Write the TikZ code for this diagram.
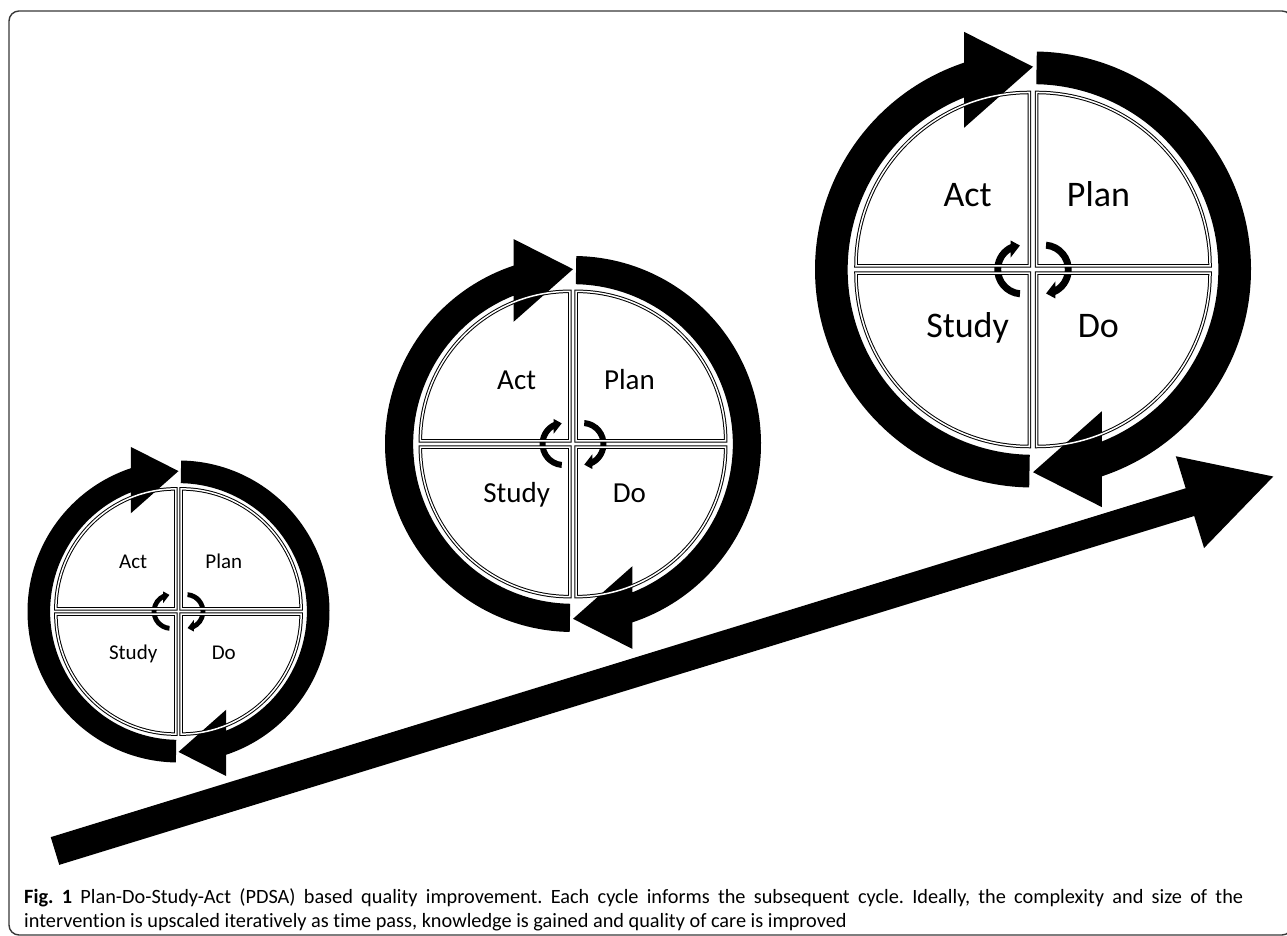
\documentclass[tikz,border=0pt]{standalone}
\usepackage{fontspec}
\setmainfont{Carlito}[Ligatures=NoCommon]
\usetikzlibrary{arrows.meta}
\definecolor{framegray}{rgb}{0.22, 0.22, 0.22}
\frenchspacing

\begin{document}
\begin{tikzpicture}[x=1pt, y=1pt]
		\tikzstyle{quadline}=[draw=black, line width=1pt, double=white, double distance=1.5pt]
		\tikzstyle{quadtext}=[inner sep=0pt, anchor=mid]
		\tikzstyle{captext}=[inner sep=0pt, anchor=base west, font=\fontsize{20.3}{24}\selectfont]
		\tikzset{
			pics/pdsa/.style={code={
				%% outer arrows
				\foreach \rot in {0,180}{
					\fill[rotate=\rot] (269:0.85) -- (269:1) arc[start angle=269, end angle=108.4, radius=1]
					-- (-0.316,1.09) -- (0,0.93) -- (-0.316,0.65)
					-- (111.8:0.85) arc[start angle=111.8, end angle=269, radius=0.85] -- cycle;
				}
				%% inner arrows
				\foreach \rot in {0,180}{
					\fill[rotate=\rot] (-0.0584,-0.0956) -- (-0.0612,-0.1275) arc[start angle=265, end angle=114.2, radius=0.128]
					-- (-0.1025,0.133) -- (-0.060,0.110) -- (-0.1025,0.055)
					-- (-0.1026,0.0803) arc[start angle=123.2, end angle=265, radius=0.096] -- cycle;
				}
				%% quadrants
				\draw[quadline] (0.017,0.017) -- ++(0,0.795) arc[start angle=90, end angle=0, radius=0.795] -- cycle;
				\draw[quadline] (-0.017,0.017) -- ++(0,0.795) arc[start angle=90, end angle=180, radius=0.795] -- cycle;
				\draw[quadline] (-0.017,-0.017) -- ++(0,-0.795) arc[start angle=270, end angle=180, radius=0.795] -- cycle;
				\draw[quadline] (0.017,-0.017) -- ++(0,-0.795) arc[start angle=270, end angle=360, radius=0.795] -- cycle;
				%% labels
				\node[quadtext, font=\fontsize{#1}{#1}\selectfont] (-act) at (-0.30,0.30) {Act};
				\node[quadtext, font=\fontsize{#1}{#1}\selectfont] (-plan) at (0.30,0.30) {Plan};
				\node[quadtext, font=\fontsize{#1}{#1}\selectfont] (-study) at (-0.30,-0.30) {Study};
				\node[quadtext, font=\fontsize{#1}{#1}\selectfont] (-do) at (0.30,-0.30) {Do};
			}}
		}
		\clip (0,0) rectangle (1287,936);
		\draw[framegray, line width=1.4pt, rounded corners=10pt] (9,1) rectangle (1292,925);
		
		%% time arrow
		\coordinate (tail) at (55,85);
		\coordinate (tip) at (1275,460);
		\draw[line width=29pt, -{Triangle[length=89pt, width=89pt]}] (tail) -- (tip);
		
		%% cycles
		\pic[scale=151] (c1) at (178.5,324.5) {pdsa=21};
		\pic[scale=188] (c2) at (573,492) {pdsa=29};
		\pic[scale=218] (c3) at (1033,666.5) {pdsa=36};
		
		%% caption
		\node[captext] (cap1) at (24,32) {\makebox[1219pt][s]{\textbf{Fig. 1} Plan-Do-Study-Act (PDSA) based quality improvement. Each cycle informs the subsequent cycle. Ideally, the complexity and size of the}};
		\node[captext] (cap2) at (24,8) {intervention is upscaled iteratively as time pass, knowledge is gained and quality of care is improved};
\end{tikzpicture}
\end{document}
